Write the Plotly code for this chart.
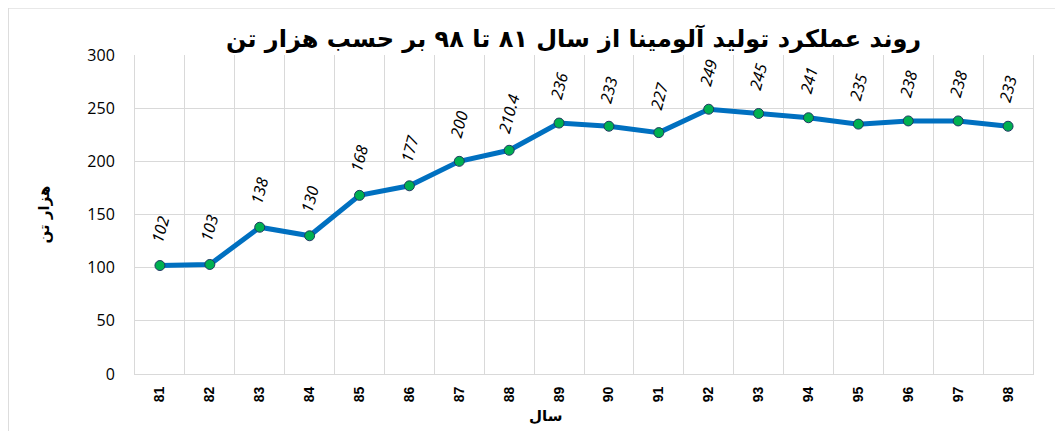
import plotly.graph_objects as go

years = ["81", "82", "83", "84", "85", "86", "87", "88", "89",
         "90", "91", "92", "93", "94", "95", "96", "97", "98"]
production = [102, 103, 138, 130, 168, 177, 200, 210.4, 236,
              233, 227, 249, 245, 241, 235, 238, 238, 233]
value_labels = ["102", "103", "138", "130", "168", "177", "200", "210.4", "236",
                "233", "227", "249", "245", "241", "235", "238", "238", "233"]

fig = go.Figure()
fig.add_trace(
    go.Scatter(
        x=years,
        y=production,
        mode="lines+markers",
        line=dict(color="#0070C0", width=5),
        marker=dict(size=10, color="#00B050", line=dict(color="#1F3864", width=1)),
        showlegend=False,
    )
)

# category axis: annotations are placed by category index
for i, (val, lab) in enumerate(zip(production, value_labels)):
    fig.add_annotation(
        x=i,
        y=val,
        text=lab,
        showarrow=False,
        textangle=-75,
        yshift=37,
        font=dict(family="Noto Sans", size=16, color="black", style="italic"),
    )

fig.update_layout(
    width=1063,
    height=431,
    margin=dict(l=127, r=38, t=47, b=65),
    plot_bgcolor="white",
    paper_bgcolor="white",
    title=dict(
        text="<b>روند عملکرد تولید آلومینا از سال ۸۱ تا ۹۸ بر حسب هزار تن</b>",
        x=0.532,
        xanchor="center",
        y=0.93,
        yanchor="middle",
        font=dict(family="DejaVu Sans", size=24, color="black"),
    ),
)

fig.update_xaxes(
    type="category",
    range=[-0.5, len(years) - 0.5],
    tickson="boundaries",
    showgrid=True,
    gridcolor="#D9D9D9",
    gridwidth=1,
    showline=True,
    linecolor="#D9D9D9",
    mirror=False,
    tickangle=-90,
    ticks="",
    ticklabelstandoff=6,
    tickfont=dict(family="Liberation Sans", size=14, color="black", weight="bold"),
)
fig.update_yaxes(
    range=[0, 300],
    dtick=50,
    showgrid=True,
    gridcolor="#D9D9D9",
    gridwidth=1,
    showline=True,
    linecolor="#D9D9D9",
    mirror=True,
    zeroline=False,
    ticks="",
    ticklabelstandoff=16,
    tickfont=dict(family="Open Sans", size=16, color="black"),
    title=dict(
        text="<b>هزار تن</b>",
        font=dict(family="DejaVu Sans", size=15, color="black"),
        standoff=34,
    ),
)

fig.add_annotation(
    text="<b>سال</b>",
    xref="paper",
    yref="paper",
    x=0.4566,
    y=0,
    yanchor="middle",
    yshift=-42,
    showarrow=False,
    font=dict(family="DejaVu Sans", size=15, color="black"),
)

fig.add_shape(
    type="rect",
    xref="paper",
    yref="paper",
    x0=-0.141,
    x1=1.06,
    y0=-0.3,
    y1=1.147,
    line=dict(color="#D9D9D9", width=1),
    layer="below",
)

fig.write_html("out.html")
